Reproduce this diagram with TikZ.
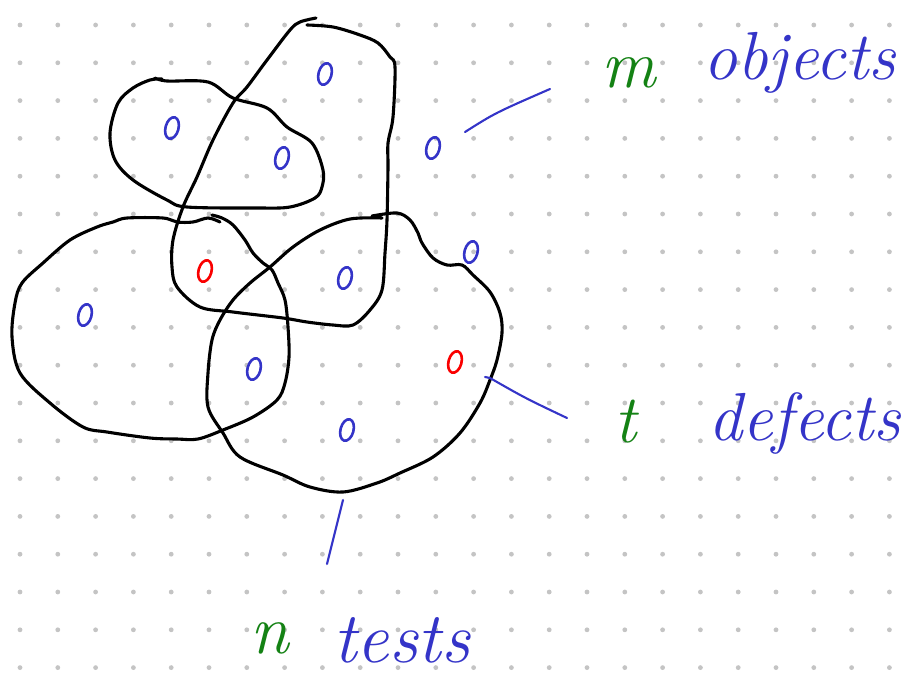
\documentclass[tikz,border=0pt]{standalone}
\usetikzlibrary{shapes.geometric}
\definecolor{inkblue}{RGB}{52,52,200}
\definecolor{inkgreen}{RGB}{20,130,20}
\definecolor{inkred}{RGB}{250,0,0}
\definecolor{griddot}{RGB}{196,196,196}
\tikzset{
  blob/.style={draw=black, line width=3.1pt, line cap=round, line join=round},
  obj/.style={ellipse, draw=inkblue, line width=2.6pt, inner sep=0pt, minimum width=13pt, minimum height=22pt, rotate=-15},
  defect/.style={obj, draw=inkred},
  link/.style={draw=inkblue, line width=2.1pt, line cap=round},
  word/.style={text=inkblue, inner sep=0pt, anchor=base west, font=\itshape\fontsize{68}{68}\selectfont},
  letter/.style={text=inkgreen, inner sep=0pt, anchor=base west, font=\itshape\fontsize{68}{68}\selectfont}
}
\begin{document}
\begin{tikzpicture}[x=1pt,y=-1pt]
\useasboundingbox (0,0) rectangle (913,675);
\fill[white] (0,0) rectangle (913,675);
% dot grid
\foreach \i in {0,...,23}{
  \foreach \j in {0,...,17}{
    \fill[griddot] ({20+\i*37.8},{25+\j*37.8}) circle (2.4);
  }
}
% closed curves (tests)
\draw[blob] plot[smooth, tension=0.55] coordinates {(155,78) (167,81) (208,82) (233,98) (267,108) (287,127) (312,143) (323,170) (322,187) (315,198) (290,207) (257,208) (187,207) (167,200) (133,180) (115,160) (110,133) (118,103) (133,88) (150,80) (162,79)};
\draw[blob] plot[smooth, tension=0.55] coordinates {(316,18) (300,22) (290,30) (267,60) (247,87) (233,103) (213,140) (197,177) (183,207) (173,240) (172,267) (177,287) (200,307) (233,312) (283,318) (307,322) (333,325) (353,325) (370,310) (382,290) (385,253) (387,220) (388,167) (388,143) (393,117) (395,67) (390,57) (378,43) (360,35) (333,27) (307,25)};
\draw[blob] plot[smooth, tension=0.55] coordinates {(220,222) (208,218) (193,222) (177,222) (163,218) (127,218) (113,222) (97,227) (70,240) (43,263) (22,283) (15,303) (12,337) (20,373) (50,403) (83,427) (107,432) (150,438) (177,439) (198,439) (223,430) (253,417) (277,400) (285,383) (289,357) (288,327) (285,300) (278,283) (272,270) (263,263) (253,253) (245,240) (233,225) (222,218) (212,215)};
\draw[blob] plot[smooth, tension=0.55] coordinates {(372,216) (397,213) (410,220) (418,233) (422,243) (433,258) (447,265) (462,265) (473,275) (490,292) (500,313) (502,333) (497,360) (490,380) (480,403) (460,433) (433,457) (400,473) (377,483) (343,492) (310,487) (283,475) (240,457) (223,433) (208,407) (208,373) (212,340) (220,320) (233,300) (250,283) (270,267) (293,247) (320,230) (350,219) (382,218)};
% objects
\node[obj] (o1) at (325,74) {};
\node[obj] (o2) at (172,128) {};
\node[obj] (o3) at (282,158) {};
\node[obj] (o4) at (433,148) {};
\node[obj] (o5) at (471,252) {};
\node[defect] (d1) at (205,271) {};
\node[obj] (o6) at (345,278) {};
\node[obj] (o7) at (85,315) {};
\node[obj] (o8) at (254,369) {};
\node[defect] (d2) at (455,362) {};
\node[obj] (o9) at (347,430) {};
% labels
\node[letter] (lm) at (601,87) {m};
\node[word] (lobj) at (703,79) {objects};
\node[letter] (lt) at (614,442) {t};
\node[word] (ldef) at (708,440) {defects};
\node[letter, font=\itshape\fontsize{70}{70}\selectfont] (ln) at (250,653) {n};
\node[word, font=\itshape\fontsize{72}{72}\selectfont] (ltest) at (333,662) {tests};
% connectors
\coordinate (a1) at (465,132);
\coordinate (a2) at (550,89);
\coordinate (b1) at (485,377);
\coordinate (b2) at (567,418);
\coordinate (c1) at (343,500);
\coordinate (c2) at (327,564);
\draw[link] (a1) .. controls (495,113) .. (a2);
\draw[link] (b1) -- (490,378) .. controls (525,398) .. (b2);
\draw[link] (c1) -- (c2);
\end{tikzpicture}
\end{document}
